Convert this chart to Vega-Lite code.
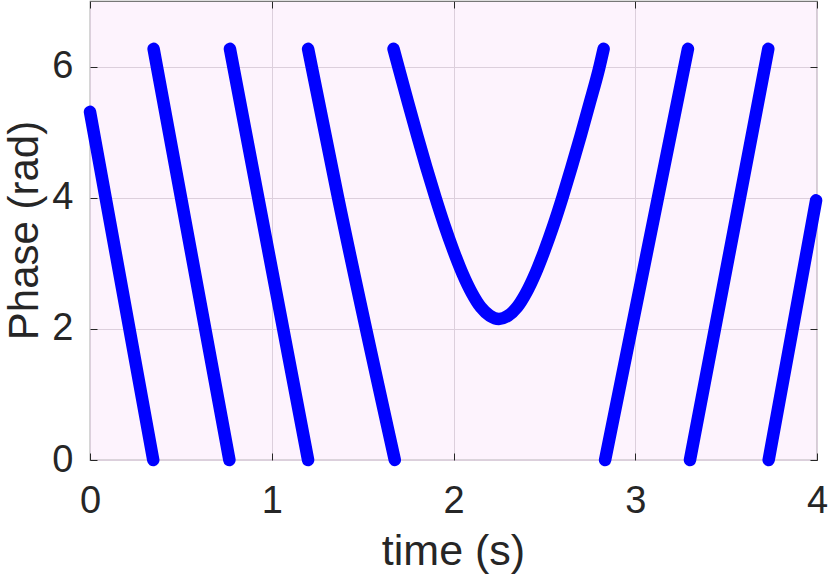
{
  "$schema": "https://vega.github.io/schema/vega-lite/v6.json",
  "width": 727,
  "height": 459,
  "autosize": "none",
  "padding": {"left": 90, "top": 1, "right": 13, "bottom": 117},
  "background": "white",
  "config": {
    "view": {"fill": "#fdf3fd", "stroke": "#777777", "strokeWidth": 1.2},
    "font": "Liberation Sans"
  },
  "data": {
    "values": [
      {"seg": 1, "t": 0.0, "phase": 5.31},
      {"seg": 1, "t": 0.348, "phase": 0.0},
      {"seg": 2, "t": 0.35, "phase": 6.27},
      {"seg": 2, "t": 0.767, "phase": 0.0},
      {"seg": 3, "t": 0.77, "phase": 6.27},
      {"seg": 3, "t": 1.2, "phase": 0.0},
      {"seg": 4, "t": 1.2, "phase": 6.27},
      {"seg": 4, "t": 1.365, "phase": 4.0},
      {"seg": 4, "t": 1.677, "phase": 0.0},
      {"seg": 5, "t": 1.67, "phase": 6.27},
      {"seg": 5, "t": 1.70, "phase": 5.96},
      {"seg": 5, "t": 1.75, "phase": 5.45},
      {"seg": 5, "t": 1.80, "phase": 4.95},
      {"seg": 5, "t": 1.85, "phase": 4.47},
      {"seg": 5, "t": 1.90, "phase": 4.01},
      {"seg": 5, "t": 1.95, "phase": 3.58},
      {"seg": 5, "t": 2.00, "phase": 3.19},
      {"seg": 5, "t": 2.05, "phase": 2.84},
      {"seg": 5, "t": 2.10, "phase": 2.55},
      {"seg": 5, "t": 2.15, "phase": 2.33},
      {"seg": 5, "t": 2.20, "phase": 2.20},
      {"seg": 5, "t": 2.25, "phase": 2.15},
      {"seg": 5, "t": 2.30, "phase": 2.20},
      {"seg": 5, "t": 2.35, "phase": 2.33},
      {"seg": 5, "t": 2.40, "phase": 2.55},
      {"seg": 5, "t": 2.45, "phase": 2.84},
      {"seg": 5, "t": 2.50, "phase": 3.19},
      {"seg": 5, "t": 2.55, "phase": 3.58},
      {"seg": 5, "t": 2.60, "phase": 4.01},
      {"seg": 5, "t": 2.65, "phase": 4.47},
      {"seg": 5, "t": 2.70, "phase": 4.95},
      {"seg": 5, "t": 2.75, "phase": 5.45},
      {"seg": 5, "t": 2.80, "phase": 5.96},
      {"seg": 5, "t": 2.826, "phase": 6.27},
      {"seg": 6, "t": 2.834, "phase": 0.0},
      {"seg": 6, "t": 3.29, "phase": 6.27},
      {"seg": 7, "t": 3.301, "phase": 0.0},
      {"seg": 7, "t": 3.732, "phase": 6.27},
      {"seg": 8, "t": 3.734, "phase": 0.0},
      {"seg": 8, "t": 3.995, "phase": 3.96}
    ]
  },
  "layer": [
    {
      "mark": {"type": "line", "color": "#0000ff", "strokeWidth": 12.5, "strokeCap": "round", "strokeJoin": "round", "interpolate": "monotone"},
      "encoding": {
        "x": {
          "field": "t", "type": "quantitative",
          "scale": {"domain": [0, 4], "nice": false, "zero": false},
          "axis": {
            "values": [0, 1, 2, 3, 4], "format": "d", "domain": false,
            "grid": true, "gridColor": "#dccfdc", "gridWidth": 1,
            "ticks": true, "tickSize": -7, "tickColor": "#262626", "tickWidth": 1,
            "labelFontSize": 38, "labelColor": "#262626", "labelPadding": 29, "labelFlush": false,
            "title": "time (s)", "titleFontSize": 43, "titleFontWeight": "normal", "titleColor": "#262626",
            "titleBaseline": "alphabetic", "titleY": 104, "titleX": 363
          }
        },
        "y": {
          "field": "phase", "type": "quantitative",
          "scale": {"domain": [0, 7], "nice": false},
          "axis": {
            "values": [0, 2, 4, 6], "format": "d", "domain": false,
            "grid": true, "gridColor": "#dccfdc", "gridWidth": 1,
            "ticks": true, "tickSize": -7, "tickColor": "#262626", "tickWidth": 1,
            "labelFontSize": 38, "labelColor": "#262626", "labelPadding": 24, "labelFlush": false,
            "title": "Phase (rad)", "titleFontSize": 42, "titleFontWeight": "normal", "titleColor": "#262626",
            "titleAngle": -90, "titleBaseline": "alphabetic", "titleAlign": "center", "titleX": -53, "titleY": 229
          }
        },
        "detail": {"field": "seg"}
      }
    },
    {
      "mark": {"type": "line", "opacity": 0},
      "encoding": {
        "x": {
          "field": "t", "type": "quantitative",
          "scale": {"domain": [0, 4], "nice": false, "zero": false},
          "axis": {"orient": "top", "values": [0, 1, 2, 3, 4], "domain": false, "grid": false, "labels": false, "title": null, "tickSize": -7, "tickColor": "#262626", "tickWidth": 1}
        },
        "y": {
          "field": "phase", "type": "quantitative",
          "scale": {"domain": [0, 7], "nice": false},
          "axis": {"orient": "right", "values": [0, 2, 4, 6], "domain": false, "grid": false, "labels": false, "title": null, "tickSize": -7, "tickColor": "#262626", "tickWidth": 1}
        },
        "detail": {"field": "seg"}
      }
    }
  ],
  "resolve": {"axis": {"x": "independent", "y": "independent"}}
}
